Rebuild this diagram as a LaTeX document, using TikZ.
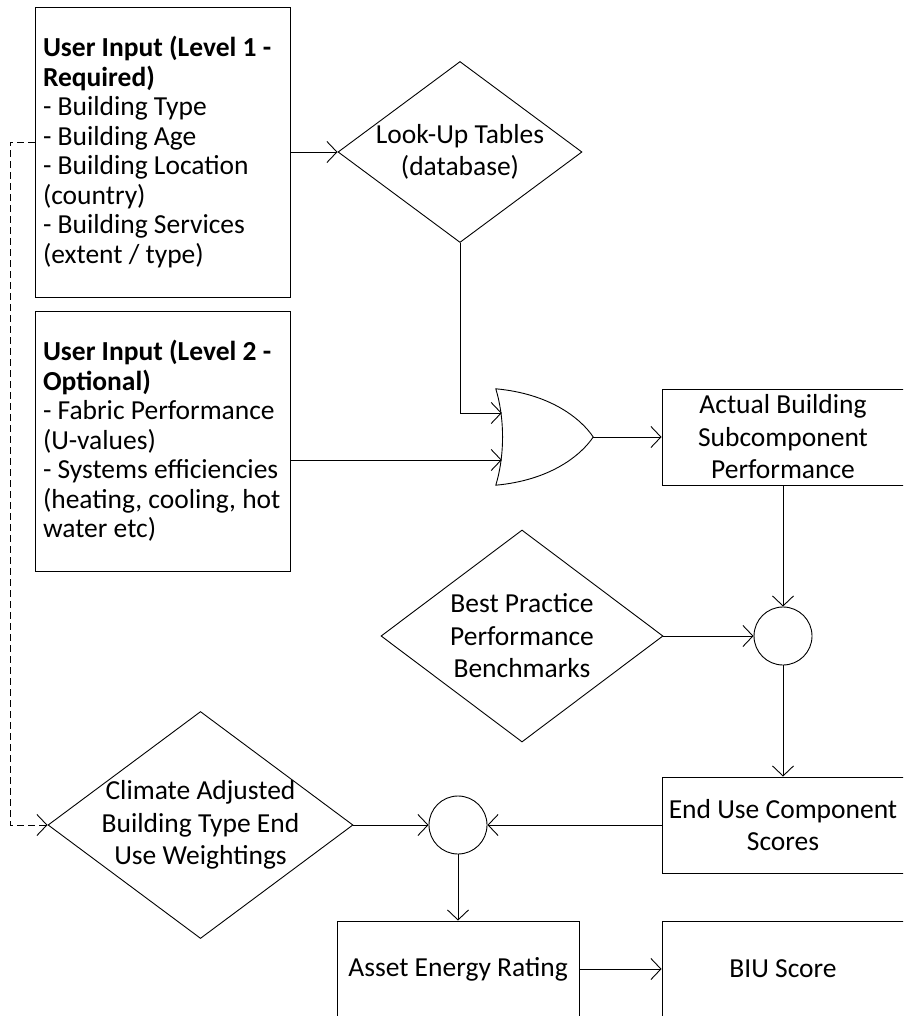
\documentclass[tikz,border=0pt]{standalone}
\usepackage{fontspec}
\setmainfont{Carlito}
\usetikzlibrary{shapes.geometric,arrows.meta,calc}

\tikzset{
    flow/.style={line width=0.9pt},
    leftbox/.style={draw, line width=0.9pt, text width=239, inner xsep=8, inner ysep=0,
        align=flush left, font=\fontsize{27.5}{29.5}\selectfont},
    midbox/.style={draw, line width=0.9pt, minimum width=242, minimum height=96, inner sep=0,
        align=center, font=\fontsize{27.5}{32.5}\selectfont},
    decision/.style={draw, diamond, line width=0.9pt, inner sep=0},
    decisiontext/.style={align=center, font=\fontsize{27.5}{32.5}\selectfont},
    junction/.style={draw, circle, line width=0.9pt, minimum size=58, inner sep=0}
}

\begin{document}
\begin{tikzpicture}[x=1pt, y=-1pt, >={Straight Barb[length=10pt,width=21pt]}]
    \useasboundingbox (0,0) rectangle (903,1016);
    \clip (0,0) rectangle (903,1016);

    % Draw the user input boxes
    \node[leftbox, minimum height=290] (input1) at (162.5,152)
        {\textbf{User Input (Level 1 -\\Required)}\\- Building Type\\- Building Age\\- Building Location\\(country)\\- Building Services\\(extent / type)};
    \node[leftbox, minimum height=260] (input2) at (162.5,441)
        {\textbf{User Input (Level 2 -\\Optional)}\\- Fabric Performance\\(U-values)\\- Systems efficiencies\\(heating, cooling, hot\\water etc)};

    % Add the decision diamonds
    \node[decision, minimum width=244, minimum height=181,
        label={[decisiontext]center:{Look-Up Tables\\(database)}}] (lookup) at (460,152) {};
    \node[decision, minimum width=282, minimum height=212,
        label={[decisiontext]center:{Best Practice\\Performance\\Benchmarks}}] (best) at (522,636) {};
    \node[decision, minimum width=305, minimum height=227,
        label={[decisiontext]center:{Climate Adjusted\\Building Type End\\Use Weightings}}] (climate) at (200.5,825) {};

    % Draw the OR gate
    \node[minimum width=97, minimum height=96, inner sep=0] (gate) at (544.5,437) {};
    \draw[flow] (gate.north west) .. controls ($(gate.north west)+(55,5)$) and ($(gate.east)+(-12,-18)$) .. (gate.east)
        .. controls ($(gate.east)+(-12,18)$) and ($(gate.south west)+(55,-5)$) .. (gate.south west)
        .. controls ($(gate.south west)+(9,-30)$) and ($(gate.north west)+(9,30)$) .. cycle;
    \coordinate (gate-a) at ($(gate.west)+(6,-24)$);
    \coordinate (gate-b) at ($(gate.west)+(6,23)$);

    % Add the result boxes and junctions
    \node[midbox] (actual) at (783,437) {Actual Building\\Subcomponent\\Performance};
    \node[junction] (mult1) at (783,636) {};
    \node[midbox] (enduse) at (783,825) {End Use Component\\Scores};
    \node[junction] (mult2) at (458,825) {};
    \node[midbox] (asset) at (458,969) {Asset Energy Rating};
    \node[midbox] (biu) at (783,969) {BIU Score};

    % Connect everything
    \draw[flow, ->] (input1.east) -- (lookup.west);
    \draw[flow, ->] (lookup.south) |- (gate-a);
    \draw[flow, ->] (input2.east |- gate-b) -- (gate-b);
    \draw[flow, ->] (gate.east) -- (actual.west);
    \draw[flow, ->] (actual.south) -- (mult1.north);
    \draw[flow, ->] (best.east) -- (mult1.west);
    \draw[flow, ->] (mult1.south) -- (enduse.north);
    \draw[flow, ->] (enduse.west) -- (mult2.east);
    \draw[flow, ->] (climate.east) -- (mult2.west);
    \draw[flow, ->] (mult2.south) -- (asset.north);
    \draw[flow, ->] (asset.east) -- (biu.west);

    % Dashed link from level 1 input to the weightings
    \coordinate (dash-corner) at (10,825);
    \draw[flow, dash pattern=on 7pt off 4pt, ->] ($(input1.west)+(0,-10)$) -| (dash-corner) -- (climate.west);
\end{tikzpicture}
\end{document}
